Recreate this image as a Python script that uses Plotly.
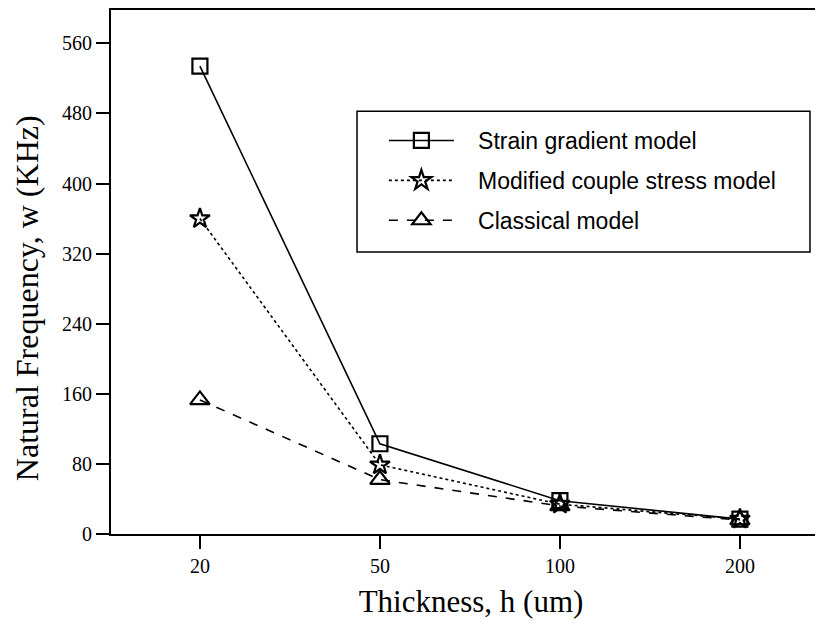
import plotly.graph_objects as go

thickness = ["20", "50", "100", "200"]
strain_gradient = [534, 103, 38, 17]
couple_stress = [360, 79, 34, 17]
classical = [153, 62, 32, 16]
y_ticks = [0, 80, 160, 240, 320, 400, 480, 560]

names = ["Strain gradient model", "Modified couple stress model", "Classical model"]
series = [strain_gradient, couple_stress, classical]
dashes = ["solid", "dot", "dash"]
symbols = ["square-open", "star-open", "triangle-up-open"]
sizes = [15, 15, 17]

pad = "\u00a0\u00a0\u00a0"
fig = go.Figure()
for i in range(3):
    fig.add_trace(go.Scatter(
        x=thickness, y=series[i], name=pad + names[i], mode="lines+markers",
        legendgroup=f"g{i}",
        line=dict(color="black", width=1.6, dash=dashes[i]),
        marker=dict(symbol=symbols[i], size=sizes[i], color="black",
                    line=dict(width=2.2, color="black")),
    ))

serif = "Liberation Serif, Times New Roman, serif"
fig.update_layout(
    width=823, height=632,
    margin=dict(l=103, r=0, t=2, b=106),
    paper_bgcolor="white", plot_bgcolor="white",
    showlegend=True,
    legend=dict(
        x=0.379, y=0.792, xanchor="left", yanchor="top",
        font=dict(family="Liberation Sans, Arial, sans-serif", size=23, color="black"),
        bgcolor="rgba(0,0,0,0)", borderwidth=0,
        itemwidth=65, tracegroupgap=7,
    ),
    xaxis=dict(
        type="category", range=[-0.494, 3.506],
        showline=True, linecolor="black", linewidth=2, mirror=True,
        ticks="outside", ticklen=13, tickwidth=2, tickcolor="black",
        showgrid=False, zeroline=False, automargin=False,
        tickfont=dict(family=serif, size=20, color="black"),
        title=dict(text="Thickness, h (um)", font=dict(family=serif, size=31, color="black"), standoff=14),
    ),
    yaxis=dict(
        range=[0, 598],
        tickvals=y_ticks,
        showline=True, linecolor="black", linewidth=2,
        ticks="outside", ticklen=13, tickwidth=2, tickcolor="black",
        showgrid=False, zeroline=False, automargin=False,
        tickfont=dict(family=serif, size=20, color="black"),
    ),
    shapes=[dict(type="rect", xref="paper", yref="paper",
                 x0=0.3417, x1=0.9708, y0=0.538, y1=0.807,
                 line=dict(color="black", width=1.5))],
    annotations=[dict(text="Natural Frequency, w (KHz)", xref="paper", yref="paper",
                      x=-0.1167, y=0.45, xanchor="center", yanchor="middle",
                      showarrow=False, textangle=-90,
                      font=dict(family=serif, size=32, color="black"))],
)

fig.write_html("out.html")
